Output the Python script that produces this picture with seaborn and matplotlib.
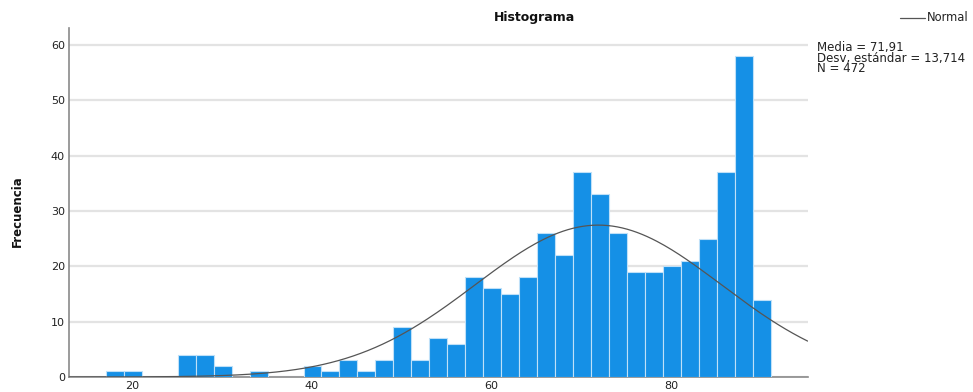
import numpy as np
import pandas as pd
import matplotlib
matplotlib.use('Agg')
import matplotlib.pyplot as plt
import seaborn as sns

# Histogram counts per 2-unit bin
bin_start = 17.1
bin_width = 2.0
counts = [1, 1, 0, 0, 4, 4, 2, 0, 1, 0, 0, 2, 1, 3, 1, 3, 9, 3, 7, 6,
          18, 16, 15, 18, 26, 22, 37, 33, 26, 19, 19, 20, 21, 25, 37, 58, 14]
x_ticks = [20, 40, 60, 80]
y_ticks = [0, 10, 20, 30, 40, 50, 60]
media = 71.91
desv = 13.714
n_total = 472

edges = bin_start + bin_width * np.arange(len(counts) + 1)
df = pd.DataFrame({'valor': (edges[:-1] + edges[1:]) / 2, 'n': counts})

sns.set_style('white')
fig = plt.figure(figsize=(9.73, 3.92), dpi=100)
ax = fig.add_axes([0.0709, 0.0383, 0.7591, 0.8903])

sns.histplot(data=df, x='valor', weights='n', bins=list(edges), ax=ax,
             color='#1590E6', alpha=1, edgecolor='#BFE0F8', linewidth=0.8, zorder=3)

# normal curve scaled to counts
xs = np.linspace(13, 95.2, 300)
ys = n_total * bin_width * np.exp(-0.5 * ((xs - media) / desv) ** 2) / (desv * np.sqrt(2 * np.pi))
sns.lineplot(x=xs, y=ys, ax=ax, color='#555555', linewidth=0.9, zorder=4)

ax.set_xlim(13, 95.2)
ax.set_ylim(0, 63.1)
ax.set_xticks(x_ticks)
ax.set_yticks(y_ticks)
ax.tick_params(axis='both', length=0, labelsize=8, colors='#222222', pad=3)
ax.yaxis.grid(True, color='#E3E3E3', linewidth=1.6, zorder=0)
ax.xaxis.grid(False)
ax.set_axisbelow(True)
for side in ['top', 'right']:
    ax.spines[side].set_visible(False)
for side in ['left', 'bottom']:
    ax.spines[side].set_color('#8A8A8A')
    ax.spines[side].set_linewidth(1.2)
ax.set_xlabel('')
ax.set_ylabel('')

fig.text(0.018, 0.462, 'Frecuencia', rotation=90, ha='center', va='center',
         fontsize=8.5, fontweight='bold', color='#111111')
fig.text(0.549, 0.955, 'Histograma', ha='center', va='center', fontsize=9,
         fontweight='bold', color='#111111')

# legend
fig.add_artist(plt.Line2D([0.925, 0.951], [0.955, 0.955], color='#555555', linewidth=0.9))
fig.text(0.953, 0.955, 'Normal', ha='left', va='center', fontsize=8.3, color='#222222')
fig.text(0.840, 0.895, f'Media = {media:.2f}'.replace('.', ',') + '\n'
         + f'Desv. estándar = {desv:.3f}'.replace('.', ',') + '\n'
         + f'N = {n_total}',
         ha='left', va='top', fontsize=8.5, linespacing=0.75, color='#222222')

fig.savefig('out.png', dpi=100)
